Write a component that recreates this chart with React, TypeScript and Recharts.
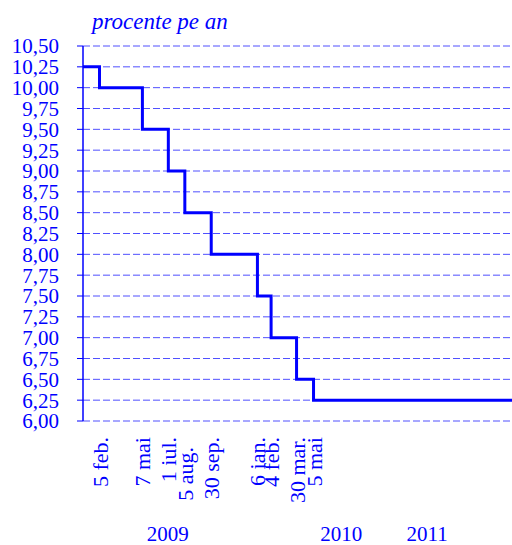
import React from "react";
import { LineChart, Line, XAxis, YAxis, CartesianGrid } from "recharts";

// dobanda de politica monetara, procente pe an
const rateDates = [
  "2009-01-01",
  "2009-02-05",
  "2009-05-07",
  "2009-07-01",
  "2009-08-05",
  "2009-09-30",
  "2010-01-06",
  "2010-02-04",
  "2010-03-30",
  "2010-05-05",
  "2011-06-30",
];
const rateValues = [10.25, 10.0, 9.5, 9.0, 8.5, 8.0, 7.5, 7.0, 6.5, 6.25, 6.25];

const changeDates = [
  "2009-02-05",
  "2009-05-07",
  "2009-07-01",
  "2009-08-05",
  "2009-09-30",
  "2010-01-06",
  "2010-02-04",
  "2010-03-30",
  "2010-05-05",
];
const changeLabels = [
  "5 feb.",
  "7 mai",
  "1 iul.",
  "5 aug.",
  "30 sep.",
  "6 ian.",
  "4 feb.",
  "30 mar.",
  "5 mai",
];

const yearLabels = ["2009", "2010", "2011"];
const yearDates = ["2009-06-30", "2010-07-03", "2011-01-01"];

const yTicks = [
  6, 6.25, 6.5, 6.75, 7, 7.25, 7.5, 7.75, 8, 8.25, 8.5, 8.75, 9, 9.25, 9.5,
  9.75, 10, 10.25, 10.5,
];

const BLUE = "#0000ff";
const GRID = "#5050ff";
const FONT = "'Liberation Serif', 'Times New Roman', serif";

const dayIndex = (s: string) =>
  Math.round((Date.parse(s) - Date.parse(rateDates[0])) / 86400000);

const data = rateDates.map((d, i) => ({ day: dayIndex(d), rate: rateValues[i] }));
const lastDay = dayIndex(rateDates[rateDates.length - 1]);

const changeTicks = changeDates.map(dayIndex);
const yearTicks = yearDates.map(dayIndex);

const DateTick = (props: any) => {
  const { x, y, payload } = props;
  const i = changeTicks.indexOf(payload.value);
  const label = changeLabels[i] ?? "";
  const down = label === "5 aug." ? 10 : 0;
  const ty = y + 16 + down;
  return (
    <text
      x={x}
      y={ty}
      dy={8}
      transform={`rotate(-90, ${x}, ${ty})`}
      textAnchor="end"
      fill={BLUE}
      fontSize={22}
      fontFamily={FONT}
    >
      {label}
    </text>
  );
};

const YearTick = (props: any) => {
  const { x, y, payload } = props;
  const i = yearTicks.indexOf(payload.value);
  return (
    <text
      x={x}
      y={y + 30}
      textAnchor="middle"
      fill={BLUE}
      fontSize={21}
      fontFamily={FONT}
    >
      {yearLabels[i]}
    </text>
  );
};

export default function App() {
  return (
    <div
      style={{
        position: "absolute",
        left: 0,
        top: 0,
        width: 512,
        height: 545,
        background: "#fff",
      }}
    >
      <div
        style={{
          position: "absolute",
          left: 92,
          top: 10,
          fontFamily: FONT,
          fontStyle: "italic",
          fontSize: 23,
          lineHeight: "23px",
          color: BLUE,
          whiteSpace: "nowrap",
        }}
      >
        procente pe an
      </div>
      <LineChart
        width={512}
        height={545}
        data={data}
        margin={{ top: 46, right: 0, bottom: 0, left: 0 }}
      >
        <CartesianGrid
          vertical={false}
          stroke={GRID}
          strokeDasharray="7 3"
        />
        <XAxis
          dataKey="day"
          type="number"
          domain={[0, lastDay]}
          ticks={changeTicks}
          interval={0}
          tick={DateTick}
          tickLine={false}
          axisLine={false}
          tickSize={0}
          tickMargin={0}
          height={90}
        />
        <XAxis
          xAxisId="year"
          dataKey="day"
          type="number"
          domain={[0, lastDay]}
          ticks={yearTicks}
          interval={0}
          tick={YearTick}
          tickLine={false}
          axisLine={false}
          tickSize={0}
          tickMargin={0}
          height={34}
        />
        <YAxis
          type="number"
          domain={[6, 10.5]}
          ticks={yTicks}
          interval={0}
          width={83}
          tickSize={6}
          tickMargin={18}
          axisLine={{ stroke: BLUE, strokeWidth: 1.5 }}
          tickLine={{ stroke: BLUE }}
          tickFormatter={(v: number) => v.toFixed(2).replace(".", ",")}
          tick={{ fill: BLUE, fontSize: 21, fontFamily: FONT }}
        />
        <Line
          type="stepAfter"
          dataKey="rate"
          stroke={BLUE}
          strokeWidth={3}
          dot={false}
          isAnimationActive={false}
        />
      </LineChart>
    </div>
  );
}
